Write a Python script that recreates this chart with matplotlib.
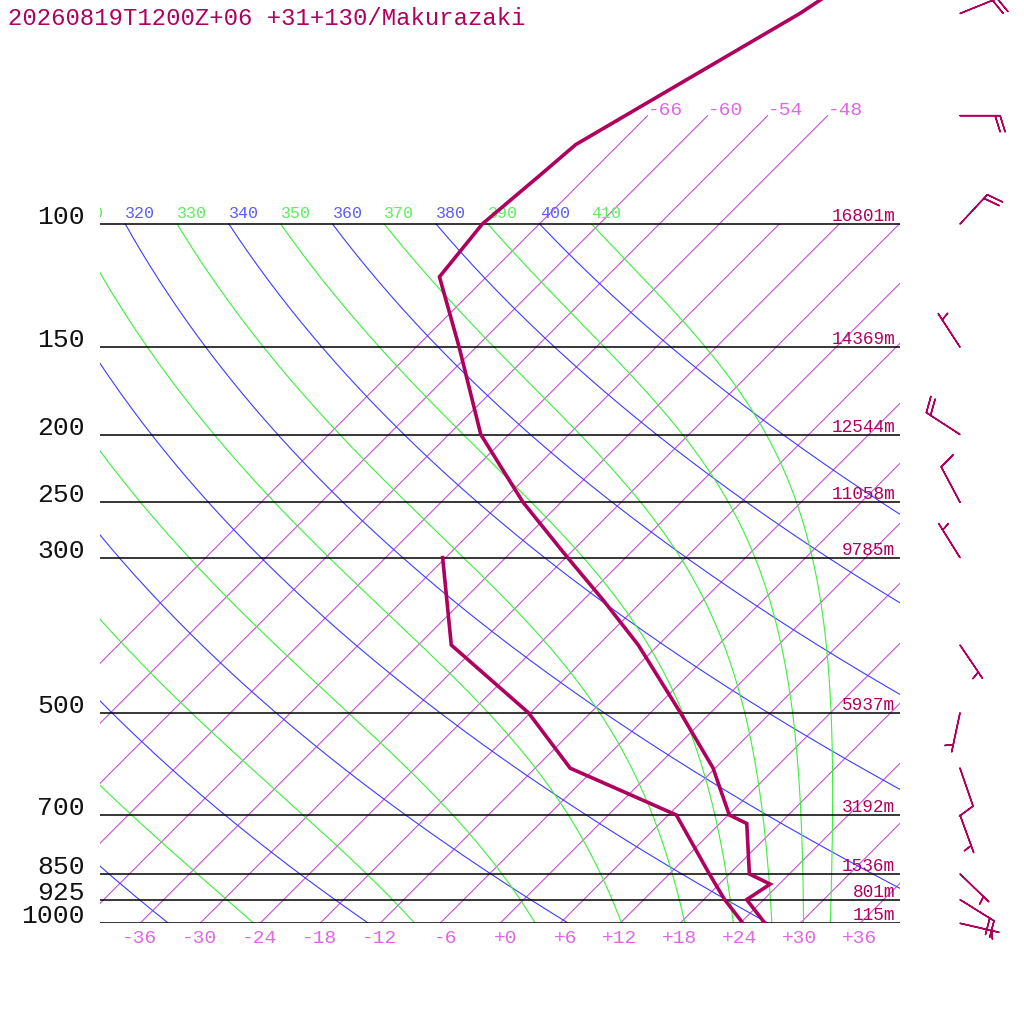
import numpy as np
import matplotlib
matplotlib.use("Agg")
import matplotlib.pyplot as plt
from matplotlib import transforms
from matplotlib.ticker import NullLocator

# ---------------- data ----------------
title = "20260819T1200Z+06 +31+130/Makurazaki"

# temperature profile (hPa, degC)
temp_p = [1000, 925, 879, 850, 720, 700, 638, 600, 500, 400, 345, 300, 250, 200, 150, 119, 100, 85, 77, 50, 30]
temp_T = [26.5, 22.3, 23.1, 20.0, 14.7, 12.1, 8.3, 5.8, -3.0, -14.0, -22.0, -29.8, -39.8, -50.8, -61.7, -70.7, -71.7, -70.8, -70.3, -61.0, -53.0]

# dew point profile (hPa, degC)
dew_p = [1000, 925, 850, 700, 600, 500, 400, 300]
dew_T = [24.3, 20.1, 16.0, 6.8, -8.5, -18.2, -32.7, -42.3]

# mandatory levels and their heights
levels = [100, 150, 200, 250, 300, 500, 700, 850, 925, 1000]
level_labels = ["100", "150", "200", "250", "300", "500", "700", "850", "925", "1000"]
heights = ["16801m", "14369m", "12544m", "11058m", "9785m", "5937m", "3192m", "1536m", "801m", "115m"]

# winds (hPa, direction deg, speed kt)
wind_p = [50, 70, 100, 150, 200, 250, 300, 400, 500, 600, 700, 850, 925, 1000]
wind_dir = [68, 90, 43, 327, 303, 332, 328, 146, 192, 161, 160, 134, 122, 103]
wind_spd = [20, 20, 20, 5, 20, 10, 5, 5, 5, 10, 5, 5, 20, 5]

# background lines
isotherms = [-66, -60, -54, -48, -42, -36, -30, -24, -18, -12, -6, 0, 6, 12, 18, 24, 30, 36]
isotherm_top_labels = [-66, -60, -54, -48]
dry_thetas = [240, 260, 280, 300, 320, 340, 360, 380, 400]
moist_thetas = [250, 270, 290, 310, 330, 350, 370, 390, 410]
xticks = [-36, -30, -24, -18, -12, -6, 0, 6, 12, 18, 24, 30, 36]
xtick_labels = ["-36", "-30", "-24", "-18", "-12", "-6", "+0", "+6", "+12", "+18", "+24", "+30", "+36"]

# ---------------- style ----------------
CRIMSON = "#b0005e"
ISO_LINE = "#cc44dd"
ISO_TXT = "#e066e6"
BLUE_LINE = "#3c3cff"
BLUE_TXT = "#5c5cff"
GREEN_LINE = "#3cef3c"
GREEN_TXT = "#5cef5c"
MONO = "Liberation Mono"

W = 1024
PX_PER_LN = 303.7
Y1000 = 923.3
p_top = 1000 * np.exp(-Y1000 / PX_PER_LN)

fig = plt.figure(figsize=(10.24, 10.24), dpi=100)
ax = fig.add_axes([100 / W, (W - Y1000) / W, 800 / W, Y1000 / W])
ax.set_yscale("log")
ax.set_ylim(1000, p_top)
ax.set_xlim(-40, 40)
for s in ax.spines.values():
    s.set_visible(False)
ax.yaxis.set_major_locator(NullLocator())
ax.yaxis.set_minor_locator(NullLocator())
ax.xaxis.set_major_locator(NullLocator())
ax.xaxis.set_minor_locator(NullLocator())

y0 = ax.transData.transform((0, 1000))[1]
skew = ax.transData + transforms.Affine2D().translate(0, -y0).skew_deg(45, 0).translate(0, y0)

# isotherms
for T in isotherms:
    top = 70 if T in isotherm_top_labels else 100
    ax.plot([T, T], [1000, top], transform=skew, color=ISO_LINE, lw=0.75, zorder=1)
for T in isotherm_top_labels:
    ax.text(T, 70, f"{T:+d}", transform=transforms.offset_copy(skew, fig=fig, x=0, y=1, units="dots"),
            ha="left", va="baseline", color=ISO_TXT, fontsize=14, family=MONO)

p = np.logspace(np.log10(100), 3, 300)
kappa = 0.2857


def add_theta_label(th, color):
    t100 = th * 0.1 ** kappa - 273.15
    if t100 * 10 + 1200 > 70:  # label at least partly inside the plot
        ax.text(t100, 100, str(th),
                transform=transforms.offset_copy(skew, fig=fig, x=0, y=6, units="dots"),
                ha="left", va="baseline", color=color, fontsize=12, family=MONO, clip_on=True)


# dry adiabats
for th in dry_thetas:
    T = th * (p / 1000) ** kappa - 273.15
    ax.plot(T, p, transform=skew, color=BLUE_LINE, lw=0.8, zorder=1)
    add_theta_label(th, BLUE_TXT)


# pseudo-adiabats
def es(TK):
    tc = TK - 273.15
    return 6.112 * np.exp(17.67 * tc / (tc + 243.5))


def dTdp(pp, TK):
    e = es(TK)
    rs = 0.622 * e / (pp - e)
    Lv = 2.501e6
    num = 287.04 * TK + Lv * rs
    den = 1005.7 + Lv ** 2 * rs * 0.622 / (287.04 * TK ** 2)
    return num / den / pp


for th in moist_thetas:
    TK = th * 0.1 ** kappa
    Ts = [TK]
    for i in range(len(p) - 1):
        h = p[i + 1] - p[i]
        k1 = dTdp(p[i], TK)
        k2 = dTdp(p[i] + h / 2, TK + h / 2 * k1)
        k3 = dTdp(p[i] + h / 2, TK + h / 2 * k2)
        k4 = dTdp(p[i] + h, TK + h * k3)
        TK = TK + h / 6 * (k1 + 2 * k2 + 2 * k3 + k4)
        Ts.append(TK)
    ax.plot(np.array(Ts) - 273.15, p, transform=skew, color=GREEN_LINE, lw=0.8, zorder=1)
    add_theta_label(th, GREEN_TXT)

# pressure lines
ax.hlines(levels, -40, 40, color="black", lw=1.1, zorder=2)

# pressure labels & heights
bl = transforms.blended_transform_factory(ax.transAxes, ax.transData)
lbl_tr = transforms.offset_copy(bl, fig=fig, x=-15, y=0, units="dots")
hgt_tr = transforms.offset_copy(bl, fig=fig, x=-5, y=3, units="dots")
for lv, lab, hg in zip(levels, level_labels, heights):
    ax.text(0, lv, lab, transform=lbl_tr, ha="right", va="baseline", fontsize=19,
            family=MONO, color="#111111")
    ax.text(1, lv, hg, transform=hgt_tr, ha="right", va="baseline", fontsize=12.8,
            family=MONO, color=CRIMSON)

# temperature labels at 1000 hPa
xt_tr = transforms.offset_copy(transforms.blended_transform_factory(ax.transData, ax.transAxes),
                               fig=fig, x=17, y=-19.7, units="dots")
for xt, xl in zip(xticks, xtick_labels):
    ax.text(xt, 0, xl, transform=xt_tr, ha="right", va="baseline", fontsize=14,
            family=MONO, color=ISO_TXT)

# profiles
ax.plot(temp_T, temp_p, transform=skew, color=CRIMSON, lw=2.6, zorder=5, solid_joinstyle="miter")
ax.plot(dew_T, dew_p, transform=skew, color=CRIMSON, lw=2.6, zorder=5, solid_joinstyle="miter")

# wind barbs
wd = np.deg2rad(np.array(wind_dir))
ws = np.array(wind_spd, dtype=float)
u = -ws * np.sin(wd)
v = -ws * np.cos(wd)
ax.barbs(np.full(len(wind_p), (960 - 100) / 800), wind_p, u, v, transform=bl, length=7.6,
         color=CRIMSON, lw=1.1, clip_on=False, zorder=6)

fig.text(8 / W, 1 - 25 / W, title, ha="left", va="baseline", fontsize=17.2, family=MONO, color=CRIMSON)

fig.savefig("out.png", dpi=100)
